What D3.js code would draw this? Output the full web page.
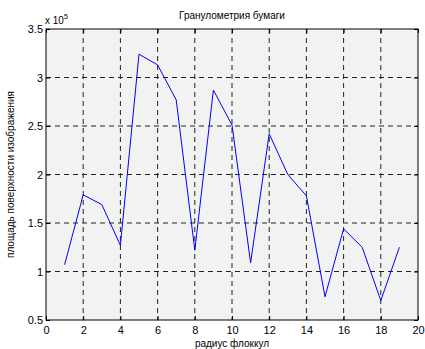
<!DOCTYPE html>
<html><head><meta charset="utf-8">
<script src="https://cdn.jsdelivr.net/npm/d3@7"></script>
<style>body{margin:0;background:#fff}svg{display:block}text{font-family:"Liberation Sans",Arial,sans-serif;fill:#000}</style>
</head><body><svg id="c" width="425" height="349"></svg>
<script>
const xValues = [1,2,3,4,5,6,7,8,9,10,11,12,13,14,15,16,17,18,19];
const yValues = [1.07,1.79,1.69,1.27,3.24,3.13,2.77,1.22,2.87,2.51,1.09,2.42,2.0,1.78,0.74,1.44,1.25,0.70,1.25];
const xTicks = [0,2,4,6,8,10,12,14,16,18,20];
const yTicks = [0.5,1,1.5,2,2.5,3,3.5];
const title = "Гранулометрия бумаги";
const xLabel = "радиус флоккул";
const yLabel = "площадь поверхности изображения";

const svg = d3.select("#c");
const L=46,T=29,R=418,B=320;
const x = d3.scaleLinear().domain([0,20]).range([L,R]);
const y = d3.scaleLinear().domain([0.5,3.5]).range([B,T]);

svg.append("rect").attr("x",L).attr("y",T).attr("width",R-L).attr("height",B-T).attr("fill","#f2f2f2");

const g = svg.append("g");
g.selectAll(".vg").data(xTicks.filter(d=>d>0&&d<20)).join("line")
 .attr("x1",d=>x(d)).attr("x2",d=>x(d)).attr("y1",T).attr("y2",B)
 .attr("stroke","#222").attr("stroke-width",1).attr("stroke-dasharray","5,4");
g.selectAll(".hg").data(yTicks.filter(d=>d>0.5&&d<3.5)).join("line")
 .attr("y1",d=>y(d)).attr("y2",d=>y(d)).attr("x1",L).attr("x2",R)
 .attr("stroke","#222").attr("stroke-width",1).attr("stroke-dasharray","5,4");

const xa = svg.append("g").attr("transform",`translate(0,${B})`)
 .call(d3.axisBottom(x).tickValues(xTicks).tickSize(-4).tickPadding(6).tickFormat(d3.format("d")));
const ya = svg.append("g").attr("transform",`translate(${L},0)`)
 .call(d3.axisLeft(y).tickValues(yTicks).tickSize(-4).tickPadding(3).tickFormat(d=>String(d)));
[xa,ya].forEach(a=>{a.select(".domain").remove();a.selectAll("text").attr("font-size",11).attr("font-family","Liberation Sans, Arial, sans-serif").attr("fill","#000");a.selectAll("line").attr("stroke","#000");});
svg.append("g").attr("transform",`translate(0,${T})`).call(d3.axisTop(x).tickValues(xTicks).tickSize(-4).tickFormat("")).call(a=>{a.select(".domain").remove();a.selectAll("line").attr("stroke","#000");});
svg.append("g").attr("transform",`translate(${R},0)`).call(d3.axisRight(y).tickValues(yTicks).tickSize(-4).tickFormat("")).call(a=>{a.select(".domain").remove();a.selectAll("line").attr("stroke","#000");});

svg.append("rect").attr("x",L).attr("y",T).attr("width",R-L).attr("height",B-T).attr("fill","none").attr("stroke","#000").attr("stroke-width",1);

const line = d3.line().x((d,i)=>x(xValues[i])).y(d=>y(d));
svg.append("path").datum(yValues).attr("d",line).attr("fill","none").attr("stroke","#0000ff").attr("stroke-width",1);

svg.append("text").attr("x",(L+R)/2).attr("y",19).attr("text-anchor","middle").attr("font-size",10).text(title);
const ex = svg.append("text").attr("x",L-1).attr("y",24).attr("font-size",10);
ex.append("tspan").text("x 10");
ex.append("tspan").attr("dy",-5).attr("font-size",7).text("5");
svg.append("text").attr("x",(L+R)/2).attr("y",347).attr("text-anchor","middle").attr("font-size",10).text(xLabel);
svg.append("text").attr("transform",`translate(14,${(T+B)/2}) rotate(-90)`).attr("text-anchor","middle").attr("font-size",10).text(yLabel);
</script></body></html>
